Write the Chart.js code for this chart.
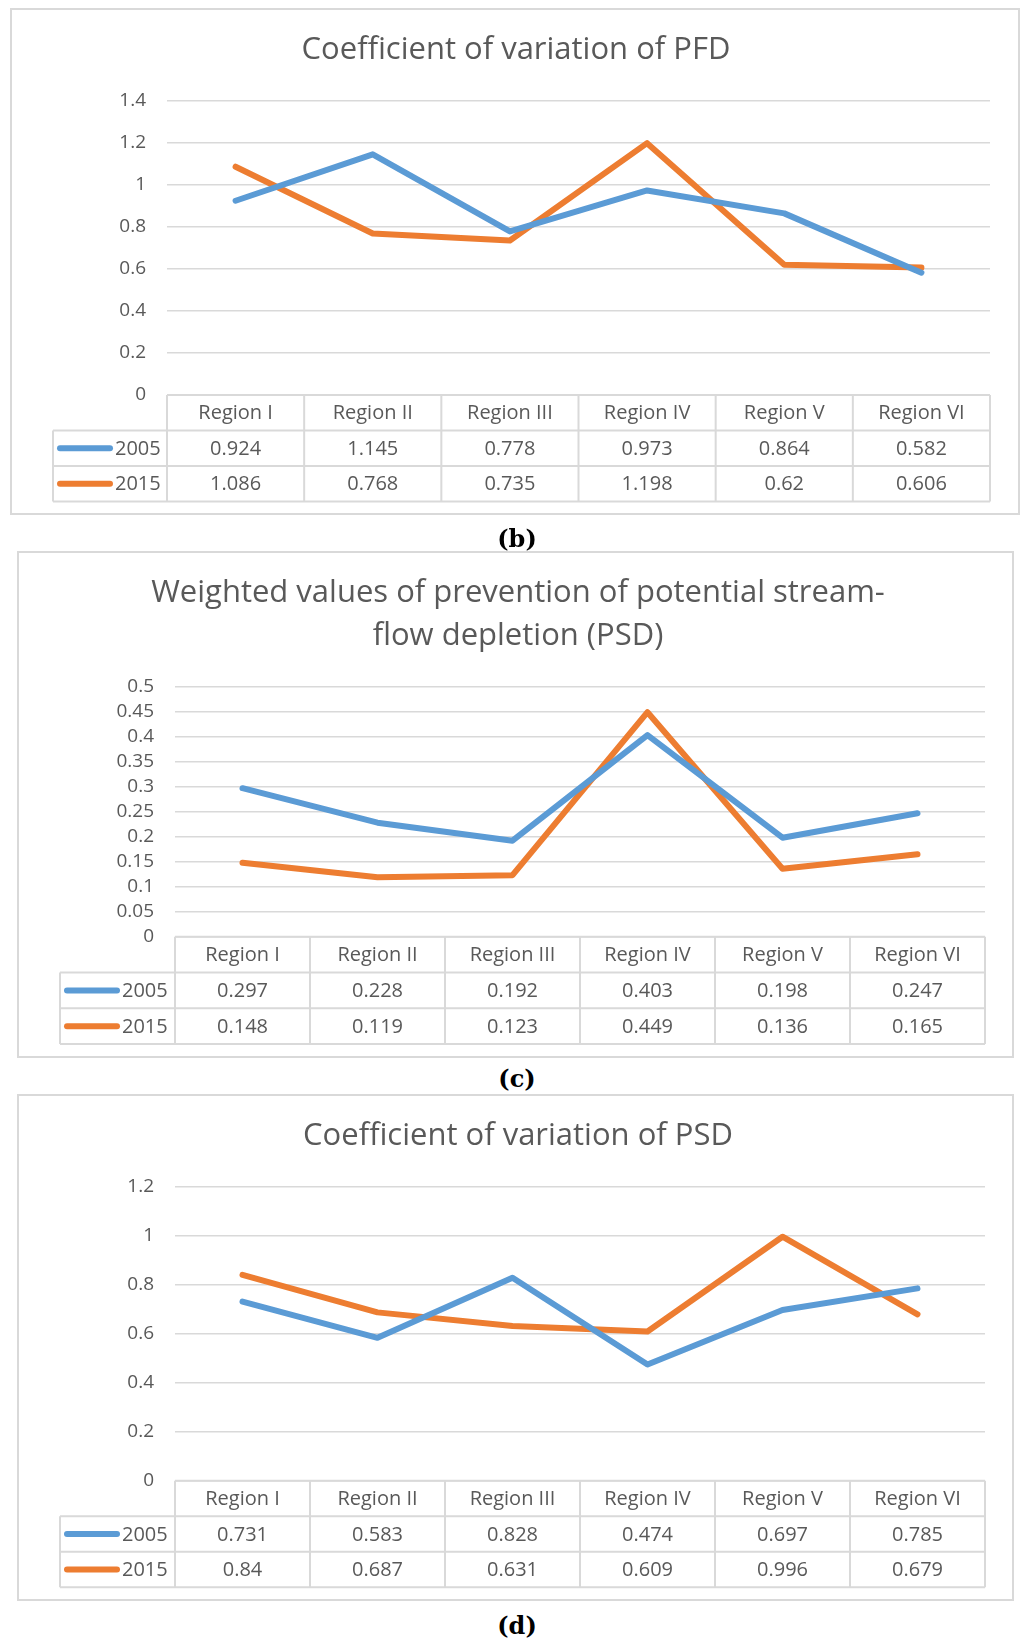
<!DOCTYPE html>
<html>
<head>
<meta charset="utf-8">
<script src="https://cdn.jsdelivr.net/npm/chart.js@4.4.1/dist/chart.umd.min.js"></script>
<style>
body { margin: 0; background: #fff; width: 1024px; height: 1644px; position: relative; overflow: hidden; }
.box { position: absolute; border: 2px solid #d9d9d9; box-sizing: border-box; }
canvas { position: absolute; left: 0; }
.cap { position: absolute; left: 0; width: 1034px; text-align: center; font: bold 24px "DejaVu Serif", serif; color: #000; line-height: 28px; }
</style>
</head>
<body>
<div class="box" style="left:10px;top:8px;width:1010px;height:507px"></div>
<div class="box" style="left:17px;top:551px;width:997px;height:507px"></div>
<div class="box" style="left:17px;top:1094px;width:997px;height:507px"></div>
<canvas id="pfdChart" width="1024" height="506" style="top:8px"></canvas>
<canvas id="psdChart" width="1024" height="506" style="top:551px"></canvas>
<canvas id="cvPsdChart" width="1024" height="506" style="top:1094px"></canvas>
<div class="cap" style="top:525px">(b)</div>
<div class="cap" style="top:1065px">(c)</div>
<div class="cap" style="top:1612px">(d)</div>
<script>
// values
const regions = ['Region I', 'Region II', 'Region III', 'Region IV', 'Region V', 'Region VI'];
const seriesNames = ['2005', '2015'];

const pfd2005 = [0.924, 1.145, 0.778, 0.973, 0.864, 0.582];
const pfd2015 = [1.086, 0.768, 0.735, 1.198, 0.62, 0.606];
const pfdTicks = ['0', '0.2', '0.4', '0.6', '0.8', '1', '1.2', '1.4'];

const psd2005 = [0.297, 0.228, 0.192, 0.403, 0.198, 0.247];
const psd2015 = [0.148, 0.119, 0.123, 0.449, 0.136, 0.165];
const psdTicks = ['0', '0.05', '0.1', '0.15', '0.2', '0.25', '0.3', '0.35', '0.4', '0.45', '0.5'];

const cvPsd2005 = [0.731, 0.583, 0.828, 0.474, 0.697, 0.785];
const cvPsd2015 = [0.84, 0.687, 0.631, 0.609, 0.996, 0.679];
const cvPsdTicks = ['0', '0.2', '0.4', '0.6', '0.8', '1', '1.2'];

const BLUE = '#5b9bd5';
const ORANGE = '#ed7d31';
const TEXT = '#595959';
const GRID = '#d9d9d9';
const FONT = '"Open Sans", sans-serif';

// draws the Excel-style data table under the plot area
const dataTable = {
    id: 'dataTable',
    afterDraw(chart, args, opts) {
        const { ctx, chartArea: a, scales: { x } } = chart;
        const n = chart.data.labels.length;
        const colW = a.width / n;
        const rh = opts.rowHeight;
        const legL = a.left - opts.legendWidth;
        const y0 = a.bottom, y1 = y0 + rh, y2 = y1 + rh, y3 = y2 + rh;

        ctx.save();
        ctx.strokeStyle = GRID;
        ctx.lineWidth = 2;
        ctx.beginPath();
        ctx.moveTo(a.left, y0); ctx.lineTo(a.right, y0);
        [y1, y2, y3].forEach(y => { ctx.moveTo(legL, y); ctx.lineTo(a.right, y); });
        for (let i = 0; i <= n; i++) {
            const xx = a.left + i * colW;
            ctx.moveTo(xx, y0); ctx.lineTo(xx, y3);
        }
        ctx.moveTo(legL, y1); ctx.lineTo(legL, y3);
        ctx.stroke();

        ctx.fillStyle = TEXT;
        ctx.font = '20px ' + FONT;
        ctx.textAlign = 'center';
        ctx.textBaseline = 'middle';
        chart.data.labels.forEach((lab, i) => ctx.fillText(lab, x.getPixelForValue(i), y0 + rh / 2 + 1));

        chart.data.datasets.forEach((ds, r) => {
            const yc = y1 + rh * r + rh / 2;
            ctx.fillStyle = TEXT;
            ctx.textAlign = 'center';
            ds.data.forEach((v, i) => ctx.fillText(String(v), x.getPixelForValue(i), yc + 1));
            ctx.strokeStyle = ds.borderColor;
            ctx.lineWidth = 6;
            ctx.lineCap = 'round';
            ctx.beginPath();
            ctx.moveTo(legL + 7, yc); ctx.lineTo(legL + 57, yc);
            ctx.stroke();
            ctx.textAlign = 'left';
            ctx.fillText(ds.label, legL + 62, yc + 1);
        });
        ctx.restore();
    }
};

function makeChart(id, title, lineHeight, d2005, d2015, ticks, layout) {
    const max = Number(ticks[ticks.length - 1]);
    return new Chart(document.getElementById(id), {
        type: 'line',
        data: {
            labels: regions,
            datasets: [
                { label: seriesNames[0], data: d2005, borderColor: BLUE },
                { label: seriesNames[1], data: d2015, borderColor: ORANGE }
            ]
        },
        options: {
            responsive: false,
            animation: false,
            devicePixelRatio: 1,
            elements: {
                line: { borderWidth: 6, tension: 0, borderCapStyle: 'round', borderJoinStyle: 'round' },
                point: { radius: 0, hoverRadius: 0 }
            },
            layout: { padding: { left: layout.padLeft, right: layout.padRight, top: 0, bottom: layout.padBottom } },
            scales: {
                x: { display: false, offset: true },
                y: {
                    min: 0,
                    max: max,
                    afterFit: s => { s.width = layout.axisWidth; },
                    afterBuildTicks: s => { s.ticks = ticks.map(t => ({ value: Number(t) })); },
                    border: { display: false },
                    grid: { color: GRID, lineWidth: 1.5, drawTicks: false },
                    ticks: {
                        autoSkip: false,
                        padding: 21,
                        color: TEXT,
                        font: { family: FONT, size: 19 },
                        callback: (v, i) => ticks[i]
                    }
                }
            },
            plugins: {
                legend: { display: false },
                tooltip: { enabled: false },
                title: {
                    display: true,
                    text: title,
                    color: TEXT,
                    font: { family: FONT, size: 31, weight: 'normal', lineHeight: lineHeight },
                    padding: { top: layout.titleTop, bottom: layout.titleBottom }
                },
                dataTable: { rowHeight: layout.rowHeight, legendWidth: layout.legendWidth }
            }
        },
        plugins: [dataTable]
    });
}

makeChart('pfdChart', 'Coefficient of variation of PFD', 1.2, pfd2005, pfd2015, pfdTicks,
    { padLeft: 42, padRight: 34, padBottom: 119, axisWidth: 125, titleTop: 24, titleBottom: 31.5, rowHeight: 35.5, legendWidth: 114 });

makeChart('psdChart', ['Weighted values of prevention of potential stream-', 'flow depletion (PSD)'], 1.4,
    psd2005, psd2015, psdTicks,
    { padLeft: 51, padRight: 39, padBottom: 120.3, axisWidth: 124, titleTop: 20, titleBottom: 28.9, rowHeight: 35.8, legendWidth: 115 });

makeChart('cvPsdChart', 'Coefficient of variation of PSD', 1.2, cvPsd2005, cvPsd2015, cvPsdTicks,
    { padLeft: 51, padRight: 39, padBottom: 119.3, axisWidth: 124, titleTop: 24, titleBottom: 31.5, rowHeight: 35.5, legendWidth: 115 });
</script>
</body>
</html>
